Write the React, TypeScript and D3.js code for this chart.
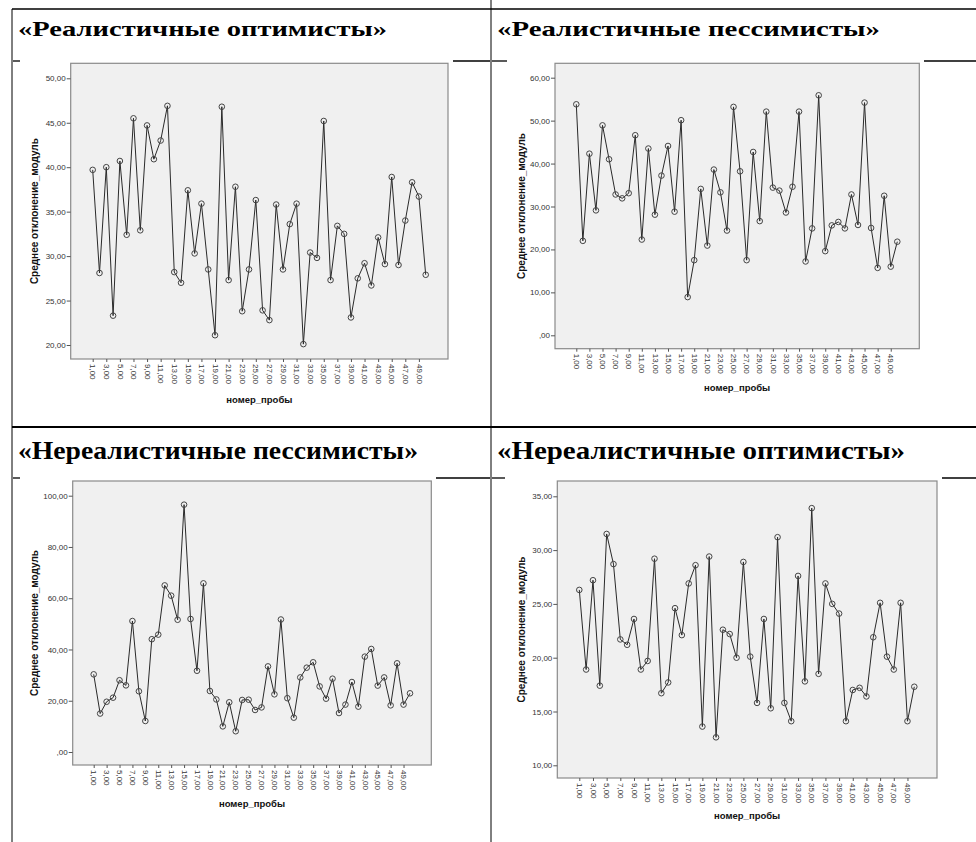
import React, { useEffect, useRef } from 'react';
import * as d3 from 'd3';

// номер пробы 1..50
const probes = [
  1, 2, 3, 4, 5, 6, 7, 8, 9, 10, 11, 12, 13, 14, 15, 16, 17, 18, 19, 20, 21, 22, 23, 24, 25,
  26, 27, 28, 29, 30, 31, 32, 33, 34, 35, 36, 37, 38, 39, 40, 41, 42, 43, 44, 45, 46, 47, 48, 49, 50,
];

const realOptimists = [
  39.7, 28.1, 40.0, 23.3, 40.7, 32.4, 45.5, 32.9, 44.7, 40.9, 43.0, 46.9, 28.2, 27.0, 37.4, 30.3, 35.9,
  28.5, 21.1, 46.8, 27.3, 37.8, 23.8, 28.5, 36.3, 23.9, 22.8, 35.8, 28.5, 33.6, 35.9, 20.1, 30.4, 29.8,
  45.2, 27.3, 33.4, 32.5, 23.1, 27.5, 29.2, 26.7, 32.1, 29.1, 38.9, 29.0, 34.0, 38.3, 36.7, 27.9,
];

const realPessimists = [
  53.8, 22.0, 42.3, 29.1, 48.9, 41.0, 32.8, 31.9, 33.1, 46.6, 22.3, 43.5, 28.1, 37.2, 44.1, 28.8, 50.1,
  8.9, 17.5, 34.1, 20.9, 38.6, 33.3, 24.4, 53.2, 38.2, 17.5, 42.7, 26.6, 52.1, 34.4, 33.7, 28.6, 34.6,
  52.1, 17.2, 24.9, 55.9, 19.6, 25.6, 26.4, 24.9, 32.8, 25.7, 54.2, 25.0, 15.7, 32.5, 16.0, 21.8,
];

const unrealPessimists = [
  30.3, 15.0, 19.6, 21.2, 28.0, 26.0, 51.1, 23.7, 12.1, 44.0, 45.8, 65.0, 61.0, 51.6, 96.5, 51.9, 31.7,
  65.8, 23.8, 20.5, 10.0, 19.4, 8.1, 20.3, 20.4, 16.4, 17.4, 33.4, 22.5, 51.7, 21.0, 13.4, 29.1, 32.9,
  35.0, 25.6, 20.8, 28.6, 15.2, 18.5, 27.3, 17.7, 37.2, 40.2, 25.9, 29.1, 18.2, 34.6, 18.5, 22.9,
];

const unrealOptimists = [
  26.3, 18.9, 27.2, 17.4, 31.5, 28.7, 21.7, 21.2, 23.6, 18.9, 19.7, 29.2, 16.7, 17.7, 24.6, 22.1, 26.9,
  28.6, 13.6, 29.4, 12.6, 22.6, 22.2, 20.0, 28.9, 20.1, 15.8, 23.6, 15.3, 31.2, 15.8, 14.1, 27.6, 17.8,
  33.9, 18.5, 26.9, 25.0, 24.1, 14.1, 17.0, 17.2, 16.4, 21.9, 25.1, 20.1, 18.9, 25.1, 14.1, 17.3,
];

const yTicksRealOpt = [20, 25, 30, 35, 40, 45, 50];
const yTicksRealPess = [0, 10, 20, 30, 40, 50, 60];
const yTicksUnrealPess = [0, 20, 40, 60, 80, 100];
const yTicksUnrealOpt = [10, 15, 20, 25, 30, 35];

const yTitle = 'Среднее отклонение_модуль';
const xTitle = 'номер_пробы';

interface PanelSpec {
  values: number[];
  yTicks: number[];
  box: { left: number; right: number; top: number; bottom: number };
  yRange: [number, number]; // pixel of first / last tick
  xRange: [number, number]; // pixel of first / last probe
  yTitleX: number;
  xTitleY: number;
}

const fmt = (v: number) => (v === 0 ? ',00' : v.toFixed(2).replace('.', ','));

const drawPanel = (g: d3.Selection<SVGGElement, unknown, null, undefined>, p: PanelSpec) => {
  const { box } = p;
  const x = d3.scaleLinear().domain([probes[0], probes[probes.length - 1]]).range(p.xRange);
  const y = d3
    .scaleLinear()
    .domain([p.yTicks[0], p.yTicks[p.yTicks.length - 1]])
    .range(p.yRange);

  g.append('rect')
    .attr('x', box.left)
    .attr('y', box.top)
    .attr('width', box.right - box.left)
    .attr('height', box.bottom - box.top)
    .attr('fill', '#f0f0f0')
    .attr('stroke', '#8a8a8a')
    .attr('stroke-width', 1.2);

  // y axis
  const yAxis = d3
    .axisLeft(y)
    .tickValues(p.yTicks)
    .tickSize(4)
    .tickFormat(d => fmt(+d));
  const ya = g.append('g').attr('transform', `translate(${box.left},0)`).call(yAxis);
  ya.select('.domain').remove();
  ya.selectAll('line').attr('stroke', '#555');
  ya.selectAll('text')
    .attr('font-family', 'Arial, "Liberation Sans", sans-serif')
    .attr('font-size', '8px')
    .attr('fill', '#333')
    .attr('x', -5);

  // x axis, odd probes only
  const xAxis = d3
    .axisBottom(x)
    .tickValues(probes.filter(d => d % 2 === 1))
    .tickSize(3)
    .tickFormat(d => fmt(+d));
  const xa = g.append('g').attr('transform', `translate(0,${box.bottom})`).call(xAxis);
  xa.select('.domain').remove();
  xa.selectAll('line').attr('stroke', '#555');
  xa.selectAll('text')
    .attr('font-family', 'Arial, "Liberation Sans", sans-serif')
    .attr('font-size', '8px')
    .attr('fill', '#333')
    .attr('text-anchor', 'start')
    .attr('transform', 'rotate(90)')
    .attr('x', 5)
    .attr('y', 0)
    .attr('dy', '0.35em');

  // line
  const line = d3
    .line<number>()
    .x((_, i) => x(probes[i]))
    .y(d => y(d));
  g.append('path')
    .datum(p.values)
    .attr('d', line)
    .attr('fill', 'none')
    .attr('stroke', '#2a2a2a')
    .attr('stroke-width', 1);

  g.selectAll('.pt')
    .data(p.values)
    .enter()
    .append('circle')
    .attr('class', 'pt')
    .attr('cx', (_, i) => x(probes[i]))
    .attr('cy', d => y(d))
    .attr('r', 2.8)
    .attr('fill', 'none')
    .attr('stroke', '#444')
    .attr('stroke-width', 1);

  // axis titles
  g.append('text')
    .attr('transform', `translate(${p.yTitleX},${(box.top + box.bottom) / 2}) rotate(-90)`)
    .attr('text-anchor', 'middle')
    .attr('font-family', 'Arial, "Liberation Sans", sans-serif')
    .attr('font-weight', 'bold')
    .attr('font-size', '10px')
    .attr('fill', '#111')
    .text(yTitle);

  g.append('text')
    .attr('x', (box.left + box.right) / 2)
    .attr('y', p.xTitleY)
    .attr('text-anchor', 'middle')
    .attr('font-family', 'Arial, "Liberation Sans", sans-serif')
    .attr('font-weight', 'bold')
    .attr('font-size', '9.5px')
    .attr('fill', '#111')
    .text(xTitle);
};

const panels: PanelSpec[] = [
  {
    values: realOptimists,
    yTicks: yTicksRealOpt,
    box: { left: 70.7, right: 448, top: 63.3, bottom: 359 },
    yRange: [345, 78.3],
    xRange: [92.7, 425.7],
    yTitleX: 38,
    xTitleY: 403,
  },
  {
    values: realPessimists,
    yTicks: yTicksRealPess,
    box: { left: 555, right: 919.3, top: 63.3, bottom: 348.7 },
    yRange: [335.3, 77.7],
    xRange: [576.3, 897.3],
    yTitleX: 525,
    xTitleY: 391,
  },
  {
    values: unrealPessimists,
    yTicks: yTicksUnrealPess,
    box: { left: 72.7, right: 431.3, top: 481, bottom: 765 },
    yRange: [752, 495.7],
    xRange: [93.7, 410],
    yTitleX: 38,
    xTitleY: 807,
  },
  {
    values: unrealOptimists,
    yTicks: yTicksUnrealOpt,
    box: { left: 557.3, right: 937, top: 481, bottom: 778 },
    yRange: [765.3, 496.3],
    xRange: [579.3, 914.3],
    yTitleX: 525,
    xTitleY: 819,
  },
];

const titles = [
  { text: '«Реалистичные оптимисты»', x: 18, y: 36, w: 369, size: 21 },
  { text: '«Реалистичные пессимисты»', x: 497, y: 36, w: 383, size: 21 },
  { text: '«Нереалистичные пессимисты»', x: 18, y: 459, w: 400, size: 26 },
  { text: '«Нереалистичные оптимисты»', x: 497, y: 459, w: 408, size: 26 },
];

// table rules and leftover picture-frame edges
const rules = [
  { x1: 12, y1: 9, x2: 976, y2: 9, w: 1.3 },
  { x1: 12, y1: 9, x2: 12, y2: 842, w: 1 },
  { x1: 491, y1: 0, x2: 491, y2: 842, w: 1 },
  { x1: 12, y1: 427, x2: 976, y2: 427, w: 2 },
  { x1: 13, y1: 61, x2: 20, y2: 61, w: 1.3 },
  { x1: 453, y1: 61, x2: 490, y2: 61, w: 1.3 },
  { x1: 492, y1: 61, x2: 507, y2: 61, w: 1.3 },
  { x1: 924, y1: 61, x2: 976, y2: 61, w: 1.3 },
  { x1: 13, y1: 478, x2: 20, y2: 478, w: 1.3 },
  { x1: 436, y1: 478, x2: 490, y2: 478, w: 1.3 },
  { x1: 492, y1: 478, x2: 505, y2: 478, w: 1.3 },
  { x1: 942, y1: 478, x2: 976, y2: 478, w: 1.3 },
];

export default function App() {
  const ref = useRef<SVGSVGElement>(null);

  useEffect(() => {
    if (!ref.current) return;
    const svg = d3.select(ref.current);
    svg.selectAll('*').remove();

    svg.append('rect').attr('width', 976).attr('height', 842).attr('fill', '#fff');

    svg.selectAll('.rule')
      .data(rules)
      .enter()
      .append('line')
      .attr('class', 'rule')
      .attr('x1', d => d.x1)
      .attr('y1', d => d.y1)
      .attr('x2', d => d.x2)
      .attr('y2', d => d.y2)
      .attr('stroke', '#000')
      .attr('stroke-width', d => d.w);

    svg.selectAll('.title')
      .data(titles)
      .enter()
      .append('text')
      .attr('class', 'title')
      .attr('x', d => d.x)
      .attr('y', d => d.y)
      .attr('textLength', d => d.w)
      .attr('lengthAdjust', 'spacingAndGlyphs')
      .attr('font-family', '"Times New Roman", "Liberation Serif", serif')
      .attr('font-weight', 'bold')
      .attr('font-size', d => d.size)
      .attr('fill', '#000')
      .text(d => d.text);

    panels.forEach(p => drawPanel(svg.append('g'), p));
  }, []);

  return (
    <div style={{ position: 'absolute', left: 0, top: 0 }}>
      <svg ref={ref} width={976} height={842} style={{ display: 'block' }} />
    </div>
  );
}
